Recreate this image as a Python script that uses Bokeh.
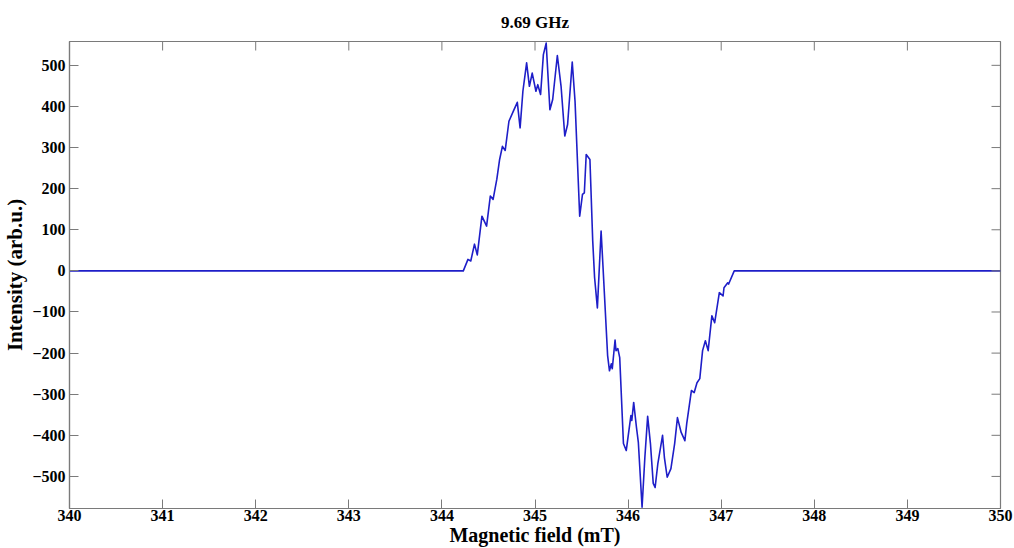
import math
from bokeh.plotting import figure
from bokeh.models import Range1d, FixedTicker, Title
from bokeh.embed import file_html
from bokeh.resources import INLINE

field_mT = [340.0, 344.23, 344.28, 344.31, 344.35, 344.38, 344.43, 344.48, 344.52, 344.55,
            344.59, 344.62, 344.65, 344.68, 344.72, 344.77, 344.81, 344.84, 344.87, 344.91,
            344.94, 344.97, 345.01, 345.03, 345.06, 345.09, 345.12, 345.16, 345.19, 345.24,
            345.28, 345.32, 345.35, 345.40, 345.43, 345.48, 345.51, 345.53, 345.55, 345.59,
            345.62, 345.64, 345.67, 345.71, 345.73, 345.78, 345.80, 345.82, 345.83, 345.86,
            345.87, 345.89, 345.91, 345.95, 345.98, 346.03, 346.04, 346.06, 346.09, 346.11,
            346.15, 346.18, 346.21, 346.24, 346.27, 346.29, 346.32, 346.37, 346.39, 346.42,
            346.46, 346.50, 346.53, 346.57, 346.61, 346.63, 346.68, 346.71, 346.74, 346.77,
            346.80, 346.83, 346.86, 346.90, 346.93, 346.98, 347.02, 347.03, 347.07, 347.08,
            347.14, 350.0]
intensity = [0, 0, 28, 24, 65, 39, 133, 109, 182, 174,
             223, 271, 303, 293, 364, 390, 410, 348, 437, 506,
             449, 481, 437, 453, 429, 526, 554, 392, 417, 524,
             449, 328, 356, 508, 413, 133, 186, 190, 283, 271,
             73, -16, -90, 97, 12, -206, -243, -226, -238, -168,
             -194, -189, -211, -420, -437, -352, -364, -320, -381, -417,
             -575, -454, -354, -420, -517, -527, -468, -400, -454, -502,
             -481, -420, -357, -393, -413, -371, -291, -296, -272, -262,
             -194, -170, -194, -109, -126, -53, -61, -41, -29, -32,
             0, 0]
x_ticks = [340, 341, 342, 343, 344, 345, 346, 347, 348, 349, 350]
y_ticks = [-500, -400, -300, -200, -100, 0, 100, 200, 300, 400, 500]
x_lo, x_hi = 340, 350
y_lo, y_hi = -578, 558

FONT = "Liberation Serif"
GRAY = "#7a7a7a"
TICK = 9

p = figure(width=1014, height=548, output_backend="svg", toolbar_location=None,
           x_range=Range1d(x_lo, x_hi), y_range=Range1d(y_lo, y_hi),
           min_border_left=67, min_border_right=14, min_border_top=40, min_border_bottom=40)
p.title = Title(text="9.69 GHz", align="center", text_font=FONT, text_font_style="bold",
                text_font_size="17px", text_color="black", standoff=20)
p.xgrid.visible = False
p.ygrid.visible = False
p.outline_line_color = GRAY
p.outline_line_width = 1.2
p.background_fill_color = "white"

p.line(field_mT, intensity, line_color="#1e1ec8", line_width=1.6, line_join="round")

for ax in (p.xaxis[0], p.yaxis[0]):
    ax.axis_line_color = GRAY
    ax.axis_line_width = 1.2
    ax.major_tick_line_color = GRAY
    ax.major_tick_in = TICK
    ax.major_tick_out = 0
    ax.minor_tick_line_color = None
    ax.major_label_text_font = FONT
    ax.major_label_text_font_style = "bold"
    ax.major_label_text_font_size = "16px"
    ax.major_label_text_color = "black"
    ax.axis_label_text_font = FONT
    ax.axis_label_text_font_style = "bold"
    ax.axis_label_text_font_size = "20px"
    ax.axis_label_text_color = "black"

p.xaxis[0].ticker = FixedTicker(ticks=x_ticks)
p.yaxis[0].ticker = FixedTicker(ticks=y_ticks)
p.xaxis[0].axis_label = "Magnetic field (mT)"
p.yaxis[0].axis_label = "Intensity (arb.u.)"
p.yaxis[0].axis_label_text_font_size = "21px"
p.xaxis[0].axis_label_standoff = 0
p.xaxis[0].major_label_standoff = 1
p.yaxis[0].axis_label_standoff = 2
p.yaxis[0].major_label_standoff = 4

# mirrored inward ticks on the top and right frame edges
p.ray(x=x_ticks, y=[y_hi] * len(x_ticks), length=TICK, length_units="screen",
      angle=-math.pi / 2, line_color=GRAY, line_width=1)
p.ray(x=[x_hi] * len(y_ticks), y=y_ticks, length=TICK, length_units="screen",
      angle=math.pi, line_color=GRAY, line_width=1)

open("out.html", "w").write(file_html(p, INLINE))
